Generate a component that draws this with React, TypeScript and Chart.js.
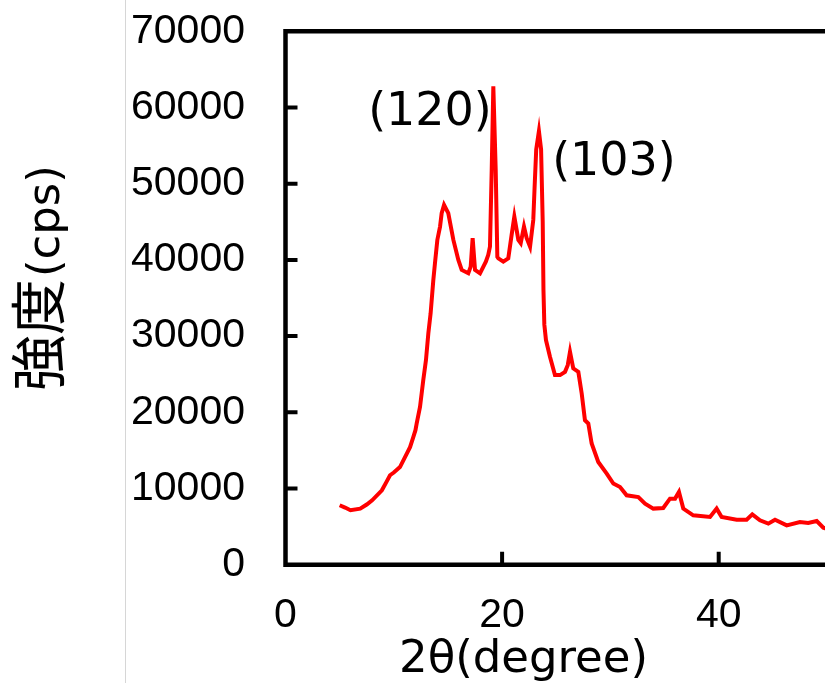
import React, { useEffect, useRef } from "react";
import { Chart, registerables } from "chart.js";

Chart.register(...registerables);

const twoTheta: number[] = [
  5.0, 5.5, 6.0, 6.9, 7.5, 8.0, 8.9, 9.3, 9.65, 10.0, 10.57, 11.2, 11.5, 11.8, 12.0, 12.11,
  12.42, 12.72, 12.97, 13.19, 13.4, 13.65, 13.8, 14.02, 14.27, 14.42, 14.64, 15.03, 15.5,
  15.96, 16.27, 16.88, 17.1, 17.28, 17.5, 17.96, 18.5, 18.72, 18.88, 19.04, 19.19, 19.41,
  19.56, 19.65, 20.11, 20.57, 20.88, 21.13, 21.5, 21.72, 22.02, 22.27, 22.58, 22.88, 23.0,
  23.15, 23.4, 23.6, 23.75, 23.82, 23.9, 24.05, 24.42, 24.88, 25.35, 25.81, 26.06, 26.27,
  26.57, 27.04, 27.35, 27.65, 27.96, 28.27, 28.88, 29.66, 30.27, 30.89, 31.5, 32.58, 33.2,
  33.96, 34.88, 35.5, 35.97, 36.33, 36.73, 37.65, 39.2, 39.81, 40.27, 41.66, 42.58, 43.1,
  43.81, 44.58, 45.2, 46.28, 47.5, 48.27, 49.05, 49.66, 50.0,
];

const intensity: number[] = [
  7800, 7500, 7150, 7350, 7900, 8450, 9760, 10800, 11740, 12100, 12810, 14590, 15430, 16750,
  17650, 18500, 20700, 24200, 26850, 30370, 32990, 37360, 39550, 42620, 44370, 46130, 47220,
  46130, 42620, 39990, 38680, 38240, 39110, 42840, 38680, 38240, 39770, 40650, 41740, 51800,
  62770, 51800, 40400, 40210, 39770, 40210, 43280, 45680, 42620, 42190, 44370, 42840, 41740,
  45250, 49500, 54500, 56900, 54500, 45000, 36000, 31500, 29480, 27280, 24880, 24880, 25310,
  26190, 27940, 25760, 25310, 22470, 18960, 18530, 15900, 13480, 11960, 10650, 10200, 9110,
  8880, 8020, 7360, 7440, 8670, 8670, 9540, 7360, 6480, 6260, 7360, 6260, 5910, 5910, 6610,
  5820, 5390, 5910, 5160, 5600, 5470, 5730, 4860, 4700,
];

const yTicks: number[] = [0, 10000, 20000, 30000, 40000, 50000, 60000, 70000];
const xTicksShown: number[] = [0, 20, 40];

const annotations: { label: string; x: number; y: number }[] = [
  { label: "(120)", x: 13.34, y: 57700 },
  { label: "(103)", x: 30.33, y: 51100 },
];

const xTitle = "2θ(degree)";
const yTitleCJK = "強度";
const yTitleLatin = "(cps)";

const CANVAS_W = 840;
const CANVAS_H = 683;
const TICK_FONT = "Arial, 'Liberation Sans', sans-serif";

const framePlugin = {
  id: "framePlugin",
  afterDraw(chart: any) {
    const { ctx, chartArea, scales } = chart;
    const { left, top, bottom, right } = chartArea;
    ctx.save();
    ctx.strokeStyle = "#000";
    ctx.lineWidth = 4.5;
    ctx.lineJoin = "miter";
    ctx.beginPath();
    ctx.moveTo(right + 10, top);
    ctx.lineTo(left, top);
    ctx.lineTo(left, bottom);
    ctx.lineTo(right + 10, bottom);
    ctx.stroke();

    // inward tick marks
    ctx.lineWidth = 4;
    ctx.lineCap = "butt";
    ctx.beginPath();
    for (const v of yTicks) {
      if (v === 0 || v === 70000) continue;
      const py = scales.y.getPixelForValue(v);
      ctx.moveTo(left, py);
      ctx.lineTo(left + 12, py);
    }
    for (const v of xTicksShown) {
      if (v === 0) continue;
      const px = scales.x.getPixelForValue(v);
      ctx.moveTo(px, bottom);
      ctx.lineTo(px, bottom - 13);
    }
    ctx.stroke();

    // annotations
    ctx.fillStyle = "#000";
    ctx.font = "46px 'DejaVu Sans'";
    ctx.textAlign = "center";
    ctx.textBaseline = "alphabetic";
    for (const a of annotations) {
      ctx.fillText(a.label, scales.x.getPixelForValue(a.x), scales.y.getPixelForValue(a.y));
    }

    // x title
    ctx.font = "45px 'DejaVu Sans'";
    ctx.textAlign = "center";
    ctx.fillText(xTitle, left + 238, 672);

    // y title (rotated)
    ctx.translate(59, 391);
    ctx.rotate(-Math.PI / 2);
    ctx.textAlign = "left";
    ctx.font = "56px 'Noto Sans CJK JP'";
    ctx.fillText(yTitleCJK, 0, 0);
    const w1 = ctx.measureText(yTitleCJK).width;
    ctx.font = "45px 'DejaVu Sans'";
    ctx.fillText(yTitleLatin, w1 + 2, 0);
    ctx.restore();
  },
};

export default function App() {
  const canvasRef = useRef<HTMLCanvasElement | null>(null);

  useEffect(() => {
    if (!canvasRef.current) return;
    const points = twoTheta.map((x, i) => ({ x, y: intensity[i] }));
    const chart = new Chart(canvasRef.current, {
      type: "line",
      data: {
        datasets: [
          {
            data: points,
            borderColor: "#ff0000",
            borderWidth: 4,
            pointRadius: 0,
            tension: 0,
            fill: false,
          },
        ],
      },
      options: {
        responsive: false,
        animation: false,
        events: [],
        layout: { padding: { top: 31.3, right: CANVAS_W - 827, left: 0, bottom: 0 } },
        plugins: { legend: { display: false }, tooltip: { enabled: false } },
        scales: {
          x: {
            type: "linear",
            min: 0,
            max: 50,
            afterFit: (s: any) => {
              s.height = CANVAS_H - 564.7;
              s.paddingLeft = 0;
              s.paddingRight = 0;
            },
            afterBuildTicks: (s: any) => {
              s.ticks = xTicksShown.map((v) => ({ value: v }));
            },
            grid: { display: false, drawTicks: false },
            border: { display: false },
            ticks: {
              autoSkip: false,
              maxRotation: 0,
              padding: 26,
              color: "#000",
              font: { family: TICK_FONT, size: 41 },
            },
          },
          y: {
            min: 0,
            max: 70000,
            afterFit: (s: any) => {
              s.width = 285.5;
              s.paddingTop = 0;
              s.paddingBottom = 0;
            },
            afterBuildTicks: (s: any) => {
              s.ticks = yTicks.map((v) => ({ value: v }));
            },
            grid: { display: false, drawTicks: false },
            border: { display: false },
            ticks: {
              padding: 40.5,
              color: "#000",
              font: { family: TICK_FONT, size: 41 },
              callback: (v: any) => String(v),
            },
          },
        },
      },
      plugins: [framePlugin],
    });
    return () => chart.destroy();
  }, []);

  return (
    <div
      style={{
        position: "absolute",
        left: 0,
        top: 0,
        width: 825,
        height: 683,
        overflow: "hidden",
        background: "#fff",
      }}
    >
      <div
        style={{
          position: "absolute",
          left: 125,
          top: 0,
          width: 1,
          height: 683,
          background: "#d6d6d6",
        }}
      />
      <canvas
        ref={canvasRef}
        width={CANVAS_W}
        height={CANVAS_H}
        style={{ position: "absolute", left: 0, top: 0, width: CANVAS_W, height: CANVAS_H }}
      />
    </div>
  );
}
